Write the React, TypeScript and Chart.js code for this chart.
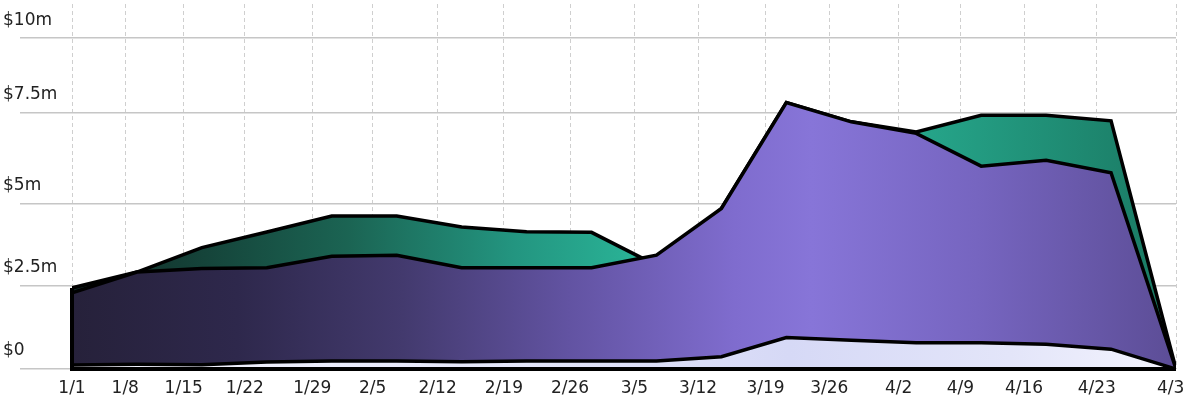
import React, { useEffect, useRef } from "react";
import { Chart, registerables } from "chart.js";

Chart.register(...registerables);

// Weekly points (index 0 = 1/1 ... 17 = 4/30), values in $ millions
const topSeries = [2.45, 2.93, 3.67, 4.14, 4.62, 4.62, 4.29, 4.15, 4.13, 3.13, 4.85, 8.05, 7.47, 7.16, 7.67, 7.67, 7.5, 0];
const midSeries = [2.3, 2.93, 3.04, 3.06, 3.41, 3.44, 3.06, 3.06, 3.06, 3.44, 4.85, 8.05, 7.47, 7.12, 6.13, 6.31, 5.93, 0];
const lowSeries = [0.12, 0.14, 0.13, 0.21, 0.24, 0.24, 0.22, 0.24, 0.24, 0.24, 0.37, 0.95, 0.87, 0.79, 0.79, 0.75, 0.6, 0];

// x-axis tick labels and where they sit on the week index axis
const xLabels = ["1/1", "1/8", "1/15", "1/22", "1/29", "2/5", "2/12", "2/19", "2/26", "3/5", "3/12", "3/19", "3/26", "4/2", "4/9", "4/16", "4/23", "4/30"];
const xTickPos = [0, 0.82, 1.72, 2.66, 3.7, 4.63, 5.63, 6.65, 7.67, 8.66, 9.64, 10.68, 11.66, 12.73, 13.68, 14.66, 15.78, 17];

// y-axis ticks
const yTickValues = [0, 2.51, 5, 7.74, 10];
const yTickLabels = ["$0", "$2.5m", "$5m", "$7.5m", "$10m"];

const FONT = "'DejaVu Sans', sans-serif";

function makeGradient(stops: [number, string][]) {
  return (ctx: any) => {
    const chart = ctx.chart;
    const area = chart.chartArea;
    if (!area) return stops[0][1];
    const g = chart.ctx.createLinearGradient(area.left, 0, area.right, 0);
    stops.forEach(([p, c]) => g.addColorStop(p, c));
    return g;
  };
}

const outlinePlugin = {
  id: "outline",
  afterDatasetsDraw(chart: any) {
    const { ctx, scales } = chart;
    const y0 = scales.y.getPixelForValue(0);
    let top = y0;
    let xFirst = 0;
    let xLast = 0;
    chart.data.datasets.forEach((_: any, i: number) => {
      const meta = chart.getDatasetMeta(i);
      const pts = meta.data;
      if (!pts.length) return;
      xFirst = pts[0].x;
      xLast = pts[pts.length - 1].x;
      top = Math.min(top, pts[0].y);
    });
    ctx.save();
    ctx.strokeStyle = "#000";
    ctx.lineWidth = 4;
    ctx.lineJoin = "miter";
    ctx.beginPath();
    ctx.moveTo(xFirst, top);
    ctx.lineTo(xFirst, y0);
    ctx.lineTo(xLast, y0);
    ctx.stroke();
    ctx.restore();
  },
};

export default function App() {
  const ref = useRef<HTMLCanvasElement | null>(null);

  useEffect(() => {
    document.body.style.margin = "0";
    const canvas = ref.current;
    if (!canvas) return;
    const toXY = (arr: number[]) => arr.map((v, i) => ({ x: i, y: v }));
    const common = {
      borderColor: "#000",
      borderWidth: 3.5,
      pointRadius: 0,
      tension: 0,
      fill: "origin",
      borderJoinStyle: "miter" as const,
    };
    const chart = new Chart(canvas, {
      type: "line",
      data: {
        datasets: [
          {
            ...common,
            label: "low",
            data: toXY(lowSeries),
            backgroundColor: makeGradient([
              [0, "#f3f3fd"],
              [0.35, "#e6e8fa"],
              [0.65, "#d6d9f6"],
              [0.85, "#e3e5f9"],
              [1, "#f4f4fe"],
            ]),
          },
          {
            ...common,
            label: "mid",
            data: toXY(midSeries),
            backgroundColor: makeGradient([
              [0, "#26213a"],
              [0.15, "#2e284c"],
              [0.3, "#433a6e"],
              [0.45, "#6253a2"],
              [0.6, "#7f6cce"],
              [0.67, "#8775d8"],
              [0.82, "#7665c0"],
              [1, "#5c4d96"],
            ]),
          },
          {
            ...common,
            label: "top",
            data: toXY(topSeries),
            backgroundColor: makeGradient([
              [0, "#112a26"],
              [0.1, "#143f36"],
              [0.25, "#1b6453"],
              [0.4, "#239580"],
              [0.52, "#2ab598"],
              [0.78, "#25a388"],
              [1, "#1a7862"],
            ]),
          },
        ],
      },
      options: {
        animation: false,
        responsive: true,
        maintainAspectRatio: false,
        layout: { padding: { left: 3, top: 4, right: 8, bottom: 0 } },
        plugins: { legend: { display: false }, tooltip: { enabled: false } },
        scales: {
          x: {
            type: "linear",
            min: 0,
            max: 17,
            afterBuildTicks: (scale: any) => {
              scale.ticks = xTickPos.map((v) => ({ value: v }));
            },
            afterFit: (scale: any) => {
              scale.height = 34;
              scale.paddingLeft = 0;
              scale.paddingRight = 0;
            },
            grid: {
              color: "#cfcfcf",
              lineWidth: 1,
              drawTicks: false,
            },
            border: { display: false, dash: [4, 3] },
            ticks: {
              autoSkip: false,
              maxRotation: 0,
              padding: 9,
              color: "#222",
              font: { family: FONT, size: 17 },
              callback: (_v: any, i: number) => xLabels[i],
            },
          },
          y: {
            type: "linear",
            min: 0,
            max: 11.03,
            afterBuildTicks: (scale: any) => {
              scale.ticks = yTickValues.map((v) => ({ value: v }));
            },
            afterFit: (scale: any) => {
              scale.width = 69;
              scale.paddingTop = 0;
              scale.paddingBottom = 0;
            },
            grid: {
              color: "#c6c6c6",
              lineWidth: 1.5,
              drawTicks: true,
              tickLength: 52,
              tickColor: "#c6c6c6",
            },
            border: { display: false },
            ticks: {
              crossAlign: "far",
              labelOffset: -18,
              padding: 0,
              color: "#222",
              font: { family: FONT, size: 17 },
              callback: (_v: any, i: number) => yTickLabels[i],
            },
          },
        },
      },
      plugins: [outlinePlugin],
    });
    return () => chart.destroy();
  }, []);

  return (
    <div style={{ width: 1184, height: 403, position: "relative" }}>
      <canvas ref={ref} />
    </div>
  );
}
